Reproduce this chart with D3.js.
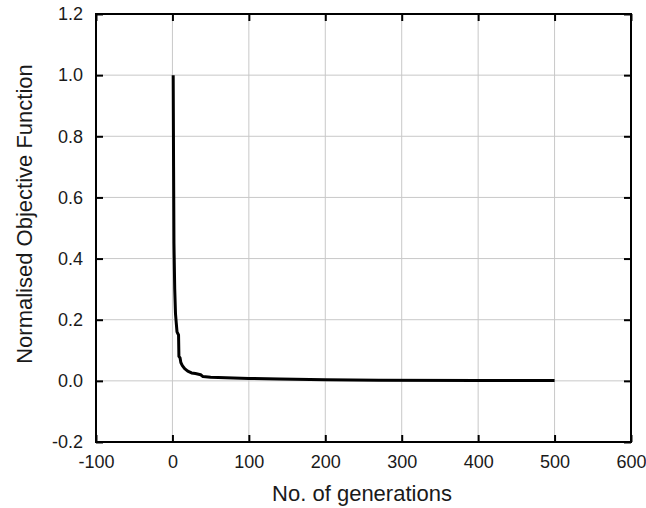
<!DOCTYPE html>
<html>
<head>
<meta charset="utf-8">
<script src="https://cdn.jsdelivr.net/npm/d3@7"></script>
<style>
  body { margin: 0; background: #fff; }
  svg { font-family: "Liberation Sans", Arial, sans-serif; }
  .grid line { stroke: #c8c8c8; stroke-width: 1; }
  .axis path { display: none; }
  .axis line { stroke: #000; stroke-width: 2; }
  .axis text { font-size: 18px; fill: #1a1a1a; }
</style>
</head>
<body>
<div id="chart"></div>
<script>
// convergence history
var generations = [1, 1.5, 2, 3, 4, 5, 6, 8, 8.5, 10, 11, 13, 16, 20, 25, 30, 37, 40, 50, 70, 100, 140, 200, 270, 400, 500];
var objective   = [1.0, 0.7, 0.45, 0.3, 0.22, 0.19, 0.16, 0.15, 0.08, 0.075, 0.06, 0.05, 0.04, 0.032, 0.026, 0.024, 0.02, 0.014, 0.012, 0.01, 0.008, 0.006, 0.004, 0.002, 0.001, 0.001];
var xTicks = [-100, 0, 100, 200, 300, 400, 500, 600];
var yTicks = [-0.2, 0.0, 0.2, 0.4, 0.6, 0.8, 1.0, 1.2];

var W = 646, H = 508;
var m = {top: 14, right: 15, bottom: 66, left: 96};
var w = W - m.left - m.right, h = H - m.top - m.bottom;

var svg = d3.select("#chart").append("svg")
    .attr("width", W)
    .attr("height", H);

var g = svg.append("g").attr("transform", "translate(" + m.left + "," + m.top + ")");

var x = d3.scaleLinear().domain([-100, 600]).range([0, w]);
var y = d3.scaleLinear().domain([-0.2, 1.2]).range([h, 0]);

// grid
g.append("g").attr("class", "grid")
  .selectAll("line").data(xTicks.slice(1, -1)).join("line")
  .attr("x1", d => x(d)).attr("x2", d => x(d))
  .attr("y1", 0).attr("y2", h);
g.append("g").attr("class", "grid")
  .selectAll("line").data(yTicks.slice(1, -1)).join("line")
  .attr("y1", d => y(d)).attr("y2", d => y(d))
  .attr("x1", 0).attr("x2", w);

// axes, ticks pointing inward (plain hyphen for negatives, like the original)
g.append("g").attr("class", "axis")
  .attr("transform", "translate(0," + h + ")")
  .call(d3.axisBottom(x).tickValues(xTicks).tickSize(-7).tickPadding(13).tickFormat(d => String(d)));
g.append("g").attr("class", "axis")
  .call(d3.axisTop(x).tickValues(xTicks).tickSize(-7).tickFormat(""));
g.append("g").attr("class", "axis")
  .call(d3.axisLeft(y).tickValues(yTicks).tickSize(-7).tickPadding(13).tickFormat(d => d.toFixed(1)));
g.append("g").attr("class", "axis")
  .attr("transform", "translate(" + w + ",0)")
  .call(d3.axisRight(y).tickValues(yTicks).tickSize(-7).tickFormat(""));

// frame
g.append("rect")
  .attr("width", w).attr("height", h)
  .attr("fill", "none").attr("stroke", "#000").attr("stroke-width", 2);

// curve
var line = d3.line()
  .x((d, i) => x(generations[i]))
  .y(d => y(d));
g.append("path")
  .datum(objective)
  .attr("d", line)
  .attr("fill", "none")
  .attr("stroke", "#000")
  .attr("stroke-width", 3)
  .attr("stroke-linejoin", "round");

// axis titles
svg.append("text")
  .attr("x", 362)
  .attr("y", 501)
  .attr("text-anchor", "middle")
  .style("font-size", "22px")
  .style("fill", "#1a1a1a")
  .text("No. of generations");
svg.append("text")
  .attr("transform", "translate(32,214) rotate(-90)")
  .attr("text-anchor", "middle")
  .style("font-size", "22px")
  .style("fill", "#1a1a1a")
  .text("Normalised Objective Function");
</script>
</body>
</html>
